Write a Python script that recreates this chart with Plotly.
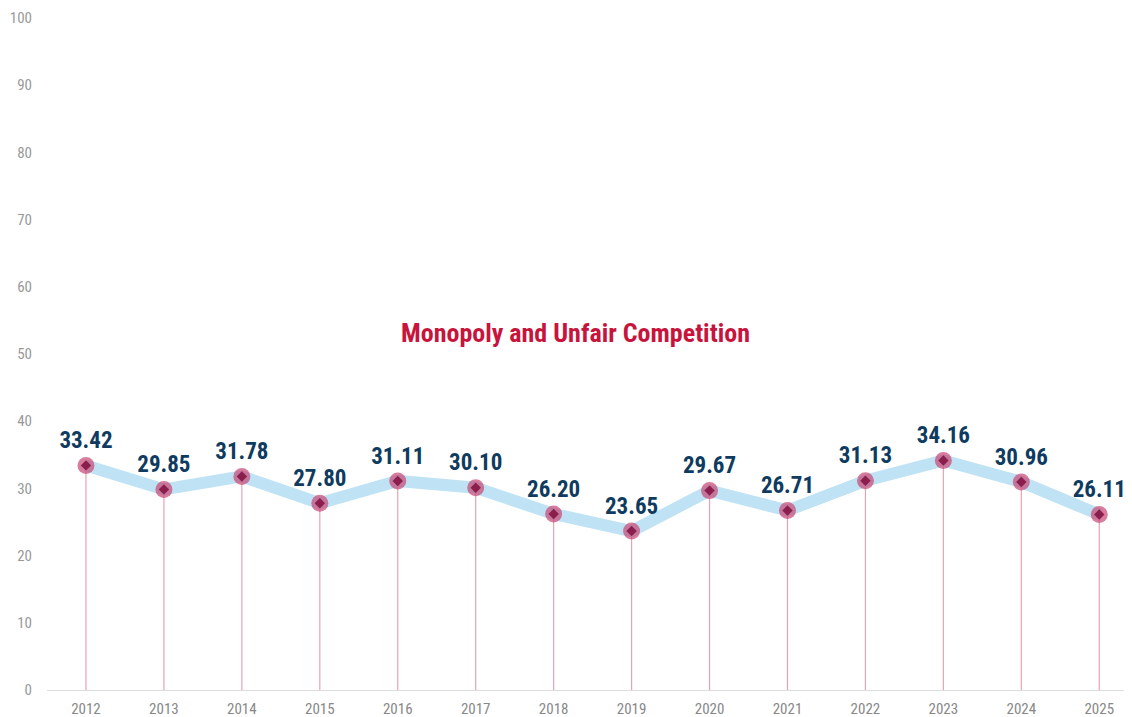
import plotly.graph_objects as go

years = ["2012", "2013", "2014", "2015", "2016", "2017", "2018", "2019",
         "2020", "2021", "2022", "2023", "2024", "2025"]
values = [33.42, 29.85, 31.78, 27.80, 31.11, 30.10, 26.20, 23.65,
          29.67, 26.71, 31.13, 34.16, 30.96, 26.11]
labels = [f"{v:.2f}" for v in values]
title_text = "Monopoly and Unfair Competition"

narrow = "Roboto Condensed, Liberation Sans Narrow, Arial Narrow, sans-serif"

fig = go.Figure()

# drop lines to zero
fig.add_trace(go.Scatter(
    x=years, y=values, mode="markers",
    marker=dict(size=1, color="rgba(0,0,0,0)"),
    error_y=dict(type="data", symmetric=False, array=[0] * len(values),
                 arrayminus=values, color="#E8A3B3", thickness=1.2, width=0),
    hoverinfo="skip", showlegend=False))

# thick light-blue line
fig.add_trace(go.Scatter(
    x=years, y=values, mode="lines",
    line=dict(color="#BFE3F4", width=12),
    hoverinfo="skip", showlegend=False))

# outer circle markers with labels
fig.add_trace(go.Scatter(
    x=years, y=values, mode="markers+text",
    marker=dict(size=17, color="rgba(200,70,115,0.7)", line=dict(width=0)),
    text=labels, textposition="top center",
    textfont=dict(family=narrow, size=23, color="#0E3B5F", weight="bold"),
    showlegend=False))

# inner diamond markers
fig.add_trace(go.Scatter(
    x=years, y=values, mode="markers",
    marker=dict(symbol="diamond", size=8, color="#8A1E4C"),
    hoverinfo="skip", showlegend=False))

fig.add_annotation(
    text=title_text, xref="paper", yref="paper", x=0.487, y=0.531,
    showarrow=False, xanchor="center", yanchor="middle",
    font=dict(family=narrow, size=26, color="#C8143C", weight="bold"))

fig.update_layout(
    width=1132, height=717,
    margin=dict(l=39, r=8, t=10, b=35),
    paper_bgcolor="white", plot_bgcolor="white",
    xaxis=dict(type="category", range=[-0.5, 13.42], showgrid=False,
               showline=True, linecolor="#DDDDDD", linewidth=1,
               ticks="", ticklabelstandoff=5,
               tickfont=dict(family=narrow, size=15, color="#888888"),
               zeroline=False, fixedrange=True, automargin=False),
    yaxis=dict(range=[0, 100], dtick=10, showgrid=False, zeroline=False,
               showline=False, ticks="", ticklabelstandoff=14,
               tickfont=dict(family=narrow, size=15, color="#999999"),
               fixedrange=True, automargin=False),
)

fig.write_html("out.html")
